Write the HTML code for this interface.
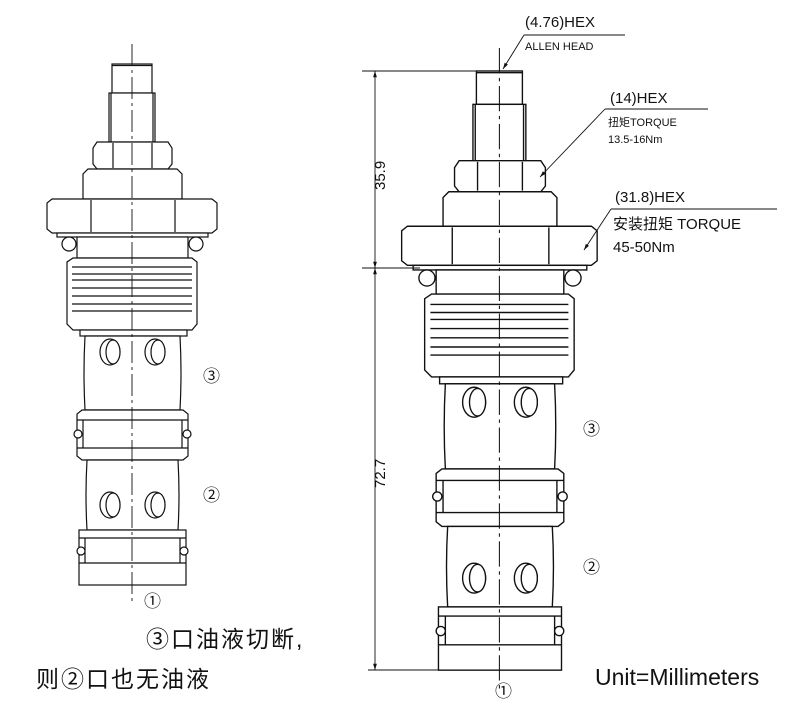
<!DOCTYPE html>
<html><head><meta charset="utf-8"><style>
html,body{margin:0;padding:0;background:#fff;width:802px;height:722px;overflow:hidden}
svg{display:block}
text{font-family:"Liberation Sans","Noto Sans CJK SC",sans-serif;fill:#111}
</style></head><body>
<svg width="802" height="722" viewBox="0 0 802 722" xmlns="http://www.w3.org/2000/svg">
<defs>
<marker id="ar" viewBox="0 0 10 10" refX="10" refY="5" markerWidth="7" markerHeight="7" orient="auto-start-reverse"><path d="M0,2 L10,5 L0,8 z" fill="#111"/></marker>
<g id="valve" fill="#fff" stroke="#111" stroke-width="1.2">
  <rect x="112" y="64" width="40" height="29"/>
  <line x1="112" y1="65.5" x2="152" y2="65.5"/>
  <rect x="109" y="93" width="46" height="49"/>
  <line x1="111" y1="93" x2="111" y2="142"/><line x1="153" y1="93" x2="153" y2="142"/>
  <path d="M97,142 L168,142 L172,148 L172,164 L168,169 L97,169 L93,164 L93,148 Z"/>
  <line x1="113" y1="143" x2="113" y2="168"/><line x1="152" y1="143" x2="152" y2="168"/>
  <path d="M88,169 L177,169 L182,174 L182,199 L83,199 L83,174 Z"/>
  <path d="M52,199 L212,199 L217,203 L217,229 L212,233 L52,233 L47,229 L47,203 Z"/>
  <line x1="91" y1="200" x2="91" y2="232"/><line x1="175" y1="200" x2="175" y2="232"/>
  <rect x="57" y="233" width="151" height="4"/>
  <circle cx="69" cy="244" r="7"/><circle cx="196" cy="244" r="7"/>
  <rect x="77" y="237" width="111" height="21"/>
  <path d="M73,258 L192,258 L197,262 L197,324 L192,330 L73,330 L67,324 L67,262 Z"/>
  <line x1="72" y1="267" x2="192" y2="267"/><line x1="72" y1="274" x2="192" y2="274"/>
  <line x1="72" y1="280" x2="192" y2="280"/><line x1="72" y1="288" x2="192" y2="288"/>
  <line x1="72" y1="296" x2="192" y2="296"/><line x1="72" y1="304" x2="192" y2="304"/>
  <line x1="72" y1="311" x2="192" y2="311"/>
  <rect x="80" y="330" width="107" height="6"/>
  <path d="M85,336 L180,336 Q182,373 180,410 L85,410 Q83,373 85,336 Z"/>
  <ellipse cx="110" cy="352" rx="10" ry="13"/><ellipse cx="113" cy="352" rx="7" ry="12"/>
  <ellipse cx="155" cy="352" rx="10" ry="13"/><ellipse cx="158" cy="352" rx="7" ry="12"/>
  <path d="M82,410 L183,410 L188,414 L188,456 L183,460 L82,460 L77,456 L77,414 Z"/>
  <line x1="77" y1="420" x2="188" y2="420"/><line x1="77" y1="448" x2="188" y2="448"/>
  <line x1="83" y1="420" x2="83" y2="448"/><line x1="182" y1="420" x2="182" y2="448"/>
  <circle cx="78" cy="434" r="4"/><circle cx="187" cy="434" r="4"/>
  <path d="M87,460 L178,460 Q180,495 178,530 L87,530 Q85,495 87,460 Z"/>
  <ellipse cx="110" cy="505" rx="10" ry="13"/><ellipse cx="113" cy="505" rx="7" ry="12"/>
  <ellipse cx="155" cy="505" rx="10" ry="13"/><ellipse cx="158" cy="505" rx="7" ry="12"/>
  <rect x="79" y="530" width="107" height="55"/>
  <line x1="79" y1="538" x2="186" y2="538"/><line x1="79" y1="563" x2="186" y2="563"/>
  <line x1="85" y1="538" x2="85" y2="563"/><line x1="180" y1="538" x2="180" y2="563"/>
  <circle cx="81" cy="551" r="4"/><circle cx="184" cy="551" r="4"/>
  <line x1="132" y1="44" x2="132" y2="605" stroke-width="0.9" stroke-dasharray="22,4,3,4" fill="none"/>
</g>
</defs>

<use href="#valve"/>
<g transform="translate(347.6,-2.6) scale(1.15)"><use href="#valve"/></g>

<g stroke="#111" stroke-width="0.9" fill="none">
  <line x1="362" y1="71" x2="478" y2="71"/>
  <line x1="362" y1="268" x2="420" y2="268"/>
  <line x1="368" y1="670" x2="440" y2="670"/>
  <line x1="375" y1="71" x2="375" y2="268" marker-start="url(#ar)" marker-end="url(#ar)"/>
  <line x1="375" y1="268" x2="375" y2="670" marker-start="url(#ar)" marker-end="url(#ar)"/>
  <line x1="524" y1="35" x2="625" y2="35"/>
  <line x1="524" y1="35" x2="503" y2="69" marker-end="url(#ar)"/>
  <line x1="605" y1="109" x2="708" y2="109"/>
  <line x1="605" y1="109" x2="540" y2="177" marker-end="url(#ar)"/>
  <line x1="611" y1="209" x2="777" y2="209"/>
  <line x1="611" y1="209" x2="584" y2="250" marker-end="url(#ar)"/>
</g>
<text x="0" y="0" font-size="15" transform="translate(385,190) rotate(-90)">35.9</text>
<text x="0" y="0" font-size="15" transform="translate(385,488) rotate(-90)">72.7</text>
<text x="525" y="27" font-size="15">(4.76)HEX</text>
<text x="525" y="50" font-size="11">ALLEN HEAD</text>
<text x="610" y="103" font-size="15">(14)HEX</text>
<text x="608" y="126" font-size="11">扭矩TORQUE</text>
<text x="608" y="143" font-size="11">13.5-16Nm</text>
<text x="615" y="202" font-size="15">(31.8)HEX</text>
<text x="613" y="229" font-size="15">安装扭矩  TORQUE</text>
<text x="613" y="252" font-size="15">45-50Nm</text>

<text x="203" y="382" font-size="17">③</text>
<text x="203" y="501" font-size="17">②</text>
<text x="144" y="607" font-size="17">①</text>
<text x="583" y="435" font-size="17">③</text>
<text x="583" y="573" font-size="17">②</text>
<text x="495" y="697" font-size="17">①</text>
<text x="595" y="685" font-size="23" fill="#333">Unit=Millimeters</text>

<text x="146" y="647" font-size="23" letter-spacing="2">③口油液切断,</text>
<text x="36" y="687" font-size="23" letter-spacing="2">则②口也无油液</text>
</svg>
</body></html>
